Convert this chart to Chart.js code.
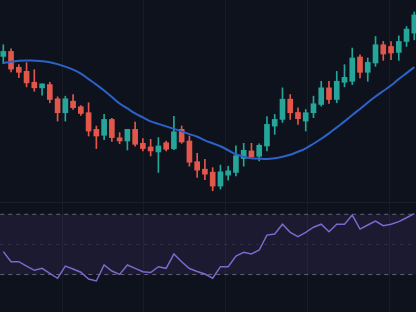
<!DOCTYPE html>
<html>
<head>
<meta charset="utf-8">
<script src="https://cdn.jsdelivr.net/npm/chart.js@4.4.1/dist/chart.umd.min.js"></script>
<style>
  html, body { margin: 0; padding: 0; background: #0e121d; width: 416px; height: 312px; overflow: hidden; }
  #top { position: absolute; left: 0; top: 0; }
  #sep { position: absolute; left: 0; top: 202px; width: 416px; height: 1px; background: rgba(255,255,255,0.06); }
  #bot { position: absolute; left: 0; top: 203px; }
</style>
</head>
<body>
<canvas id="top" width="416" height="202"></canvas>
<div id="sep"></div>
<canvas id="bot" width="416" height="109"></canvas>
<script>
// ---- data ----
const opens  = [135.83,137.08,133.08,132.08,129.33,127.93,128.75,125.18,121.68,124.58,123.18,121.68,117.50,116.00,120.00,115.38,114.58,117.50,114.00,113.08,111.83,114.13,112.63,117.50,114.58,109.38,107.50,106.75,103.25,106.00,106.68,110.18,112.08,110.75,113.33,118.33,120.00,125.08,121.75,119.58,121.68,123.75,127.93,125.00,129.33,129.58,135.68,131.83,134.18,138.75,138.33,136.83,139.58,141.68];
const highs  = [138.75,137.75,133.75,134.25,132.50,128.93,129.33,125.68,125.83,126.25,123.50,124.18,118.33,121.25,120.25,116.68,117.50,119.33,115.18,115.00,115.43,114.58,120.75,118.33,115.83,111.50,110.00,107.88,108.50,108.25,113.38,114.00,114.00,113.88,120.68,121.25,127.93,126.25,122.93,122.50,125.83,129.58,129.58,132.08,133.75,137.93,136.25,135.43,140.83,139.58,139.58,141.00,143.33,147.00];
const lows   = [134.00,131.93,130.50,128.18,127.08,126.08,124.18,119.58,119.58,122.50,121.00,115.83,112.68,114.88,114.50,113.88,112.33,113.25,112.08,110.83,106.68,112.08,112.38,114.00,108.25,105.43,104.83,102.08,102.50,104.75,105.83,108.25,110.43,109.58,112.08,116.25,119.25,120.00,118.75,117.08,120.43,123.33,124.00,124.18,128.18,128.75,130.43,129.58,133.33,134.83,135.00,134.83,138.33,140.00];
const closes = [137.08,132.63,131.83,129.18,127.93,128.93,125.00,121.68,125.18,122.93,121.50,117.08,115.83,120.00,115.43,114.58,117.50,113.75,112.68,112.08,113.33,112.50,116.88,114.33,109.25,107.25,106.25,103.25,106.83,107.08,110.88,112.25,110.63,113.50,118.75,120.00,125.08,121.68,120.18,121.68,123.93,127.93,125.00,129.58,130.58,135.43,131.83,134.33,138.75,136.43,136.68,139.58,142.68,146.25];
const movingAvg = [134.13,134.50,134.75,134.83,134.75,134.63,134.38,133.88,133.25,132.50,131.50,130.13,128.75,127.25,125.63,124.00,122.75,121.50,120.50,119.50,118.88,118.25,117.63,117.00,116.30,115.63,114.75,114.00,113.25,112.25,111.25,110.63,110.25,110.13,110.05,110.25,110.63,111.13,111.88,112.75,113.88,115.13,116.50,118.00,119.50,121.13,122.63,124.25,125.75,127.13,128.50,130.13,131.63,133.13];
const rsiValues = [45.2,38.5,38.5,35.6,32.8,34.1,30.8,27.5,35.6,33.7,31.5,27.0,25.7,36.3,32.3,30.1,36.3,34.1,31.9,31.3,35.2,34.1,43.6,38.5,34.0,32.0,30.3,27.5,35.2,35.2,42.3,44.8,43.6,46.3,56.2,56.9,63.4,58.0,55.1,58.0,61.4,63.4,58.4,63.4,63.4,69.5,60.2,62.9,65.5,62.4,63.4,65.1,67.7,70.5];
const rsiLevels = [70, 50, 30];
const priceRange = [99.25, 150];
const rsiRange = [5.1, 77.5];

// ---- styles ----
const UP = '#26a69a', DOWN = '#e2574b';
const candleColors = opens.map((o, i) => closes[i] >= o ? UP : DOWN);
const xMin = -0.4256, xMax = 53.22;
const vGrid = [7.57, 18.14, 28.71, 39.29, 49.86];

function xScale() {
  return {
    type: 'linear', min: xMin, max: xMax, offset: false,
    grid: { offset: false, color: 'rgba(255,255,255,0.045)', drawTicks: false, lineWidth: 1 },
    border: { display: false },
    ticks: { display: false },
    afterBuildTicks: s => { s.ticks = vGrid.map(v => ({ value: v })); }
  };
}
const common = {
  responsive: false, animation: false, devicePixelRatio: 1,
  layout: { padding: 0 },
  plugins: { legend: { display: false }, tooltip: { enabled: false } }
};

new Chart(document.getElementById('top'), {
  type: 'bar',
  data: {
    datasets: [
      { type: 'line', data: movingAvg.map((v, i) => ({ x: i, y: v })), borderColor: '#2d62c9', borderWidth: 2, pointRadius: 0, tension: 0.4, order: 0 },
      { type: 'bar', data: opens.map((o, i) => ({ x: i, y: [o, closes[i]] })), backgroundColor: candleColors, barThickness: 5, grouped: false, minBarLength: 1, order: 1 },
      { type: 'bar', data: lows.map((l, i) => ({ x: i, y: [l, highs[i]] })), backgroundColor: candleColors, barThickness: 1, grouped: false, order: 2 }
    ]
  },
  options: Object.assign({}, common, {
    scales: {
      x: xScale(),
      y: { min: priceRange[0], max: priceRange[1], display: false }
    }
  })
});

const levelLine = (v) => [{ x: xMin - 1, y: v }, { x: xMax + 1, y: v }];
new Chart(document.getElementById('bot'), {
  type: 'line',
  data: {
    datasets: [
      { data: rsiValues.map((v, i) => ({ x: i, y: v })), borderColor: '#7d68cc', borderWidth: 1.5, pointRadius: 0, tension: 0, fill: false },
      { data: levelLine(rsiLevels[0]), borderColor: 'rgba(125,128,140,0.75)', borderDash: [4, 4], borderWidth: 1, pointRadius: 0, fill: false },
      { data: levelLine(rsiLevels[1]), borderColor: 'rgba(125,128,140,0.22)', borderDash: [3, 5], borderWidth: 1, pointRadius: 0, fill: false },
      { data: levelLine(rsiLevels[2]), borderColor: 'rgba(125,128,140,0.75)', borderDash: [4, 4], borderWidth: 1, pointRadius: 0, fill: 1, backgroundColor: 'rgba(126,87,194,0.12)' }
    ]
  },
  options: Object.assign({}, common, {
    scales: {
      x: xScale(),
      y: { min: rsiRange[0], max: rsiRange[1], display: false }
    }
  })
});
</script>
</body>
</html>
